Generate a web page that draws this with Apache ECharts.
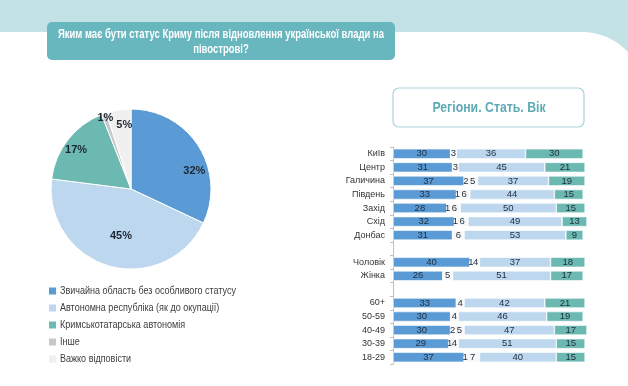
<!DOCTYPE html>
<html><head><meta charset="utf-8">
<script src="https://cdn.jsdelivr.net/npm/echarts@6/dist/echarts.min.js"></script>
<style>html,body{margin:0;padding:0;background:#fff}#c{width:628px;height:386px}</style>
</head><body><div id="c"></div>
<script>
// ---- data ----
const pieNames = ['Звичайна область без особливого статусу','Автономна республіка (як до окупації)','Кримськотатарська автономія','Інше','Важко відповісти'];
const pieValues = [32, 45, 17, 1, 5];

const categories = ['Київ','Центр','Галичина','Південь','Захід','Схід','Донбас','','Чоловік','Жінка','','60+','50-59','40-49','30-39','18-29'];
const ordinary   = [30,31,37,33,28,32,31,null,40,26,null,33,30,30,29,37];
const other      = [0, 0, 2, 1, 1, 1, 0, null,1, 0, null,0, 0, 2, 1, 1];
const hard       = [3, 3, 5, 6, 6, 6, 6, null,4, 5, null,4, 4, 5, 4, 7];
const autonomous = [36,45,37,44,50,49,53,null,37,51,null,42,46,47,51,40];
const tatar      = [30,21,19,15,15,13,9, null,18,17,null,21,19,17,15,15];

// ---- styles ----
const pieColors = ['#5b9bd5','#bdd7ee','#6cb9b2','#c8c8c8','#f0f0f0'];
const barColors = ['#5b9bd5','#f7f7f7','#f7f7f7','#bdd7ee','#6cb9b2'];
const pieLabelNudge = [[27,5],[2,6],[-21,-13],[-11,-31],[0,-22]];
const FONT = '"Liberation Sans",Arial,sans-serif';

// decorative curve of the header band (cubic bezier sampled)
const curvePts = [];
(function(){
  const p0=[580,32], p1=[602,32], p2=[616,40], p3=[628,52];
  for (let k=0;k<=16;k++){
    const t=k/16, u=1-t;
    curvePts.push([
      u*u*u*p0[0]+3*u*u*t*p1[0]+3*u*t*t*p2[0]+t*t*t*p3[0],
      u*u*u*p0[1]+3*u*u*t*p1[1]+3*u*t*t*p2[1]+t*t*t*p3[1]]);
  }
  curvePts.push([628,31]);
  curvePts.push([580,31]);
})();

// legend drawn as graphic items (condensed text)
const legendGraphics = [];
pieNames.forEach((n, i) => {
  const yy = 291 + i * 17;
  legendGraphics.push({type: 'rect', z: 2, silent: true,
    shape: {x: 49, y: yy - 3.5, width: 7, height: 7}, style: {fill: pieColors[i]}});
  legendGraphics.push({type: 'text', z: 2, silent: true, x: 60, y: yy, scaleX: 0.82,
    style: {text: n, fill: '#3d3d3d', font: '11px ' + FONT, align: 'left', verticalAlign: 'middle'}});
});

const chart = echarts.init(document.getElementById('c'), null, {renderer:'canvas'});

const barSeriesData = [ordinary, other, hard, autonomous, tatar];
const barSeries = barSeriesData.map((arr, i) => ({
  type: 'bar', name: 'b' + i, stack: 'all', barWidth: 10,
  data: arr,
  itemStyle: {color: barColors[i], borderColor: '#fff', borderWidth: 0.6},
  label: {show: true, position: 'inside', fontFamily: FONT, fontSize: 9.5, color: '#1f2d3d',
    formatter: p => (p.value ? String(p.value) : '')},
  silent: true
}));

chart.setOption({
  animation: false,
  textStyle: {fontFamily: FONT},
  graphic: [
    {type: 'rect', silent: true, z: 0, shape: {x: 0, y: 0, width: 628, height: 32},
     style: {fill: '#c3e2e5'}},
    {type: 'polygon', silent: true, z: 0, shape: {points: curvePts},
     style: {fill: '#c3e2e5'}},
    {type: 'rect', z: 1, shape: {x: 47, y: 22, width: 348, height: 38, r: 5},
     style: {fill: '#68b6be'}},
    {type: 'text', z: 2, x: 221, y: 42, scaleX: 0.76,
     style: {text: 'Яким має бути статус Криму після відновлення української влади на\nпівострові?',
       fill: '#fff', font: 'bold 12.5px ' + FONT, align: 'center', verticalAlign: 'middle', lineHeight: 15}},
    {type: 'rect', z: 1, shape: {x: 393, y: 88, width: 191, height: 39, r: 6},
     style: {fill: '#fff', stroke: '#a9d5d9', lineWidth: 1.2}},
    {type: 'text', z: 2, x: 489, y: 108, scaleX: 0.82,
     style: {text: 'Регіони. Стать. Вік', fill: '#5eabb5', font: 'bold 15px ' + FONT,
       align: 'center', verticalAlign: 'middle'}}
  ].concat(legendGraphics),
  grid: {left: 393, right: 41, top: 147, bottom: 22},
  xAxis: {type: 'value', min: 0, max: 101, show: false},
  yAxis: {type: 'category', inverse: true, data: categories,
    axisLine: {lineStyle: {color: '#bfbfbf'}},
    axisTick: {show: true, length: 3, lineStyle: {color: '#bfbfbf'}},
    axisLabel: {fontFamily: FONT, fontSize: 9, color: '#333', margin: 8}},
  series: [
    {type: 'pie', center: [131, 189], radius: 80, startAngle: 90, clockwise: true,
     data: pieNames.map((n, i) => ({name: n, value: pieValues[i], itemStyle: {color: pieColors[i]}})),
     itemStyle: {borderColor: '#fff', borderWidth: 1},
     label: {show: true, position: 'inside', formatter: '{c}%', fontFamily: FONT,
       fontWeight: 'bold', fontSize: 11, color: '#1d2733'},
     labelLayout: p => ({dx: pieLabelNudge[p.dataIndex][0], dy: pieLabelNudge[p.dataIndex][1]}),
     silent: true}
  ].concat(barSeries)
});
</script>
</body></html>
